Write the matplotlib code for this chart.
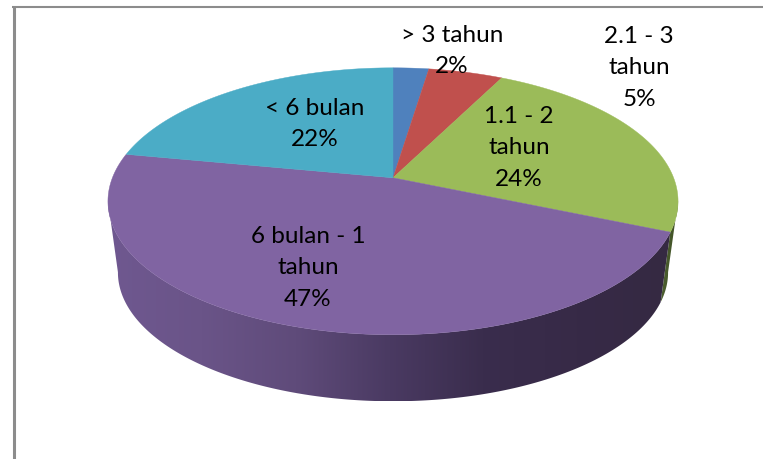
import numpy as np
import matplotlib
matplotlib.use('Agg')
import matplotlib.pyplot as plt
from matplotlib.patches import Polygon
from matplotlib.colors import LinearSegmentedColormap

plt.rcParams['font.family'] = ['Lato', 'DejaVu Sans']

labels = ['> 3 tahun\n2%', '2.1 - 3\ntahun\n5%', '1.1 - 2\ntahun\n24%',
          '6 bulan - 1\ntahun\n47%', '< 6 bulan\n22%']
values = [2.4, 5.0, 24, 46.6, 22]
colors = ['#4f81bd', '#c0504d', '#9bbb59', '#8064a2', '#4bacc6']
label_pos = [(452, 51), (639, 68), (519, 148), (308, 268), (315, 124)]

# perspective of the pie top, in pixels
cx, apex_y = 393, 178
ax_x, ax_y, persp = 280.6, -98, 0.176
y_shift = 0.8
top_mid = 202.3
# bottom rim is a bit smaller than the top one
shrink, bottom_mid = 0.965, 273.5


def project(theta):
    # theta clockwise from the top of the pie
    u, v = np.sin(theta), np.cos(theta)
    w = persp * v + 1
    return cx + ax_x * u / w, (ax_y * v + apex_y) / w + y_shift


def rim(a, b, n=200):
    t = np.linspace(a, b, n)
    x, y = project(t)
    return np.column_stack([x, y])


def lower(pts):
    return np.column_stack([cx + (pts[:, 0] - cx) * shrink,
                            bottom_mid + (pts[:, 1] - top_mid) * shrink])


fig = plt.figure(figsize=(7.63, 4.6), dpi=100)
ax = fig.add_axes([0, 0, 1, 1])
ax.axis('off')

# frame, only top and left are visible
ax.plot([13.5, 13.5], [460, 7], color='#8c8c8c', lw=2.2, solid_capstyle='butt')
ax.plot([12, 763], [8, 8], color='#8c8c8c', lw=1.5, solid_capstyle='butt')

edges = np.radians(np.cumsum([0] + values) * 3.6)


def side_wall(a, b, cmap):
    top = rim(a, b)
    poly = np.vstack([top, lower(top)[::-1]])
    patch = Polygon(poly, closed=True, fc='none', ec='none')
    ax.add_patch(patch)
    x0, x1 = poly[:, 0].min(), poly[:, 0].max()
    grad = np.linspace(0, 1, 256).reshape(1, -1)
    im = ax.imshow(grad, cmap=cmap, extent=[x0, x1, poly[:, 1].max(), poly[:, 1].min()],
                   aspect='auto', zorder=2)
    im.set_clip_path(patch)


purple_cmap = LinearSegmentedColormap.from_list(
    'purple', ['#352942', '#372a47', '#3a2d4d', '#4a3a62', '#5f4b7a', '#6a5488', '#6f5890'][::-1])
green_cmap = LinearSegmentedColormap.from_list('green', ['#4d6030', '#3f4f25'])

# visible walls: purple front, thin bit of green on the right
side_wall(np.radians(100), edges[3], green_cmap)
side_wall(edges[3], np.radians(260), purple_cmap)

ax.set_xlim(0, 763)
ax.set_ylim(460, 0)

for i in range(len(values)):
    arc = rim(edges[i], edges[i + 1])
    pts = np.vstack([[cx, apex_y + y_shift], arc])
    ax.add_patch(Polygon(pts, closed=True, fc=colors[i], ec=colors[i], lw=0.3, zorder=3))

for text, (x, y) in zip(labels, label_pos):
    ax.text(x, y, text, ha='center', va='center', fontsize=17.5, color='black',
            linespacing=1.6, zorder=5)

fig.savefig('out.png', dpi=100)
